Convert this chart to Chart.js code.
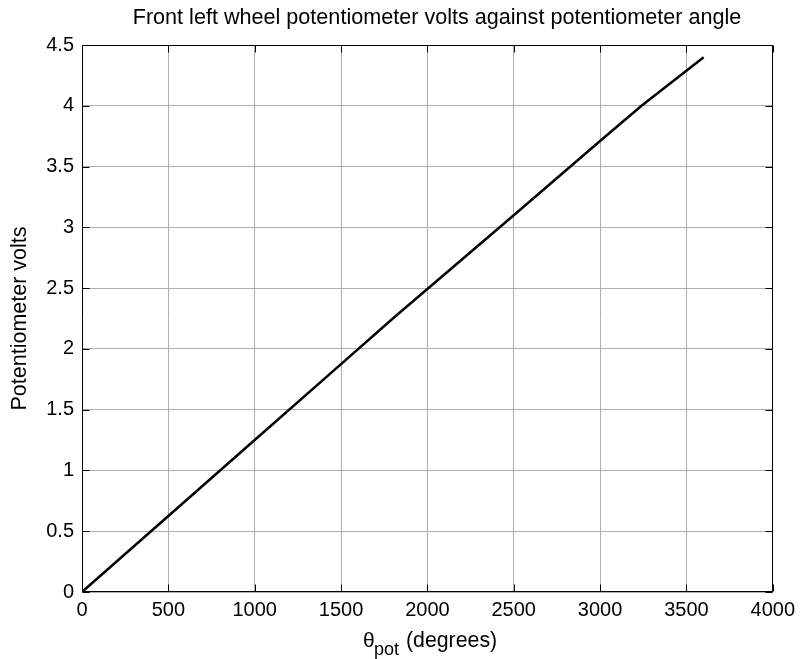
<!DOCTYPE html>
<html>
<head>
<meta charset="utf-8">
<title>Front left wheel potentiometer volts</title>
<script src="https://cdn.jsdelivr.net/npm/chart.js"></script>
<style>
  body { margin: 0; background: #fff; }
  canvas { display: block; }
</style>
</head>
<body>
<canvas id="grafico" width="803" height="659"></canvas>
<script>
// data
const angleDeg = [0, 500, 1000, 1500, 1800, 2500, 3000, 3240, 3600];
const potVolts = [0, 0.625, 1.25, 1.875, 2.25, 3.1, 3.71, 4.0, 4.4];
const xTicks = [0, 500, 1000, 1500, 2000, 2500, 3000, 3500, 4000];
const yTicks = [0, 0.5, 1, 1.5, 2, 2.5, 3, 3.5, 4, 4.5];

const fontFam = 'Arial, "Liberation Sans", Helvetica, sans-serif';

// box round the axes, inward tick marks and the texts
const matlabBox = {
  id: 'matlabBox',
  afterDraw(chart) {
    const ctx = chart.ctx;
    const a = chart.chartArea;
    const xs = chart.scales.x, ys = chart.scales.y;
    const L = Math.round(a.left) + 0.5, R = Math.round(a.right) - 0.5;
    const T = Math.round(a.top) + 0.5, B = Math.round(a.bottom) - 0.5;
    const tl = 7;
    ctx.save();
    ctx.strokeStyle = '#000';
    ctx.lineWidth = 1;
    ctx.beginPath();
    ctx.rect(L, T, R - L, B - T);
    xTicks.forEach(v => {
      const px = Math.round(xs.getPixelForValue(v)) + 0.5;
      ctx.moveTo(px, B); ctx.lineTo(px, B - tl);
      ctx.moveTo(px, T); ctx.lineTo(px, T + tl);
    });
    yTicks.forEach(v => {
      const py = Math.round(ys.getPixelForValue(v)) + 0.5;
      ctx.moveTo(L, py); ctx.lineTo(L + tl, py);
      ctx.moveTo(R, py); ctx.lineTo(R - tl, py);
    });
    ctx.stroke();

    ctx.fillStyle = '#000';
    // title
    ctx.font = '21.6px ' + fontFam;
    ctx.textAlign = 'center';
    ctx.textBaseline = 'middle';
    ctx.fillText('Front left wheel potentiometer volts against potentiometer angle', 437, 18);

    // y title
    ctx.save();
    ctx.translate(20, (a.top + a.bottom) / 2);
    ctx.rotate(-Math.PI / 2);
    ctx.font = '21.5px ' + fontFam;
    ctx.fillText('Potentiometer volts', 0, 0);
    ctx.restore();

    // x title with subscript
    ctx.textAlign = 'left';
    ctx.textBaseline = 'alphabetic';
    ctx.font = '21px ' + fontFam;
    ctx.fillText('\u03b8', 363, 647);
    ctx.font = '18px ' + fontFam;
    ctx.fillText('pot', 374, 655);
    ctx.font = '21.3px ' + fontFam;
    ctx.fillText('(degrees)', 406, 647);
    ctx.restore();
  }
};

new Chart(document.getElementById('grafico').getContext('2d'), {
  type: 'line',
  data: {
    datasets: [{
      data: angleDeg.map((x, i) => ({ x: x, y: potVolts[i] })),
      borderColor: '#000',
      borderWidth: 2.5,
      pointRadius: 0,
      tension: 0,
      fill: false
    }]
  },
  options: {
    responsive: false,
    animation: false,
    devicePixelRatio: 1,
    layout: { padding: { top: 45, right: 27, left: 0, bottom: 0 } },
    plugins: { legend: { display: false }, tooltip: { enabled: false } },
    scales: {
      x: {
        type: 'linear',
        min: 0,
        max: 4000,
        afterFit: s => { s.height = 67; },
        afterBuildTicks: s => { s.ticks = xTicks.map(v => ({ value: v })); },
        grid: { color: '#adadad', drawTicks: false },
        border: { display: false },
        ticks: {
          color: '#000',
          font: { family: fontFam, size: 20, lineHeight: 1 },
          padding: 8,
          maxRotation: 0,
          autoSkip: false,
          callback: v => String(v)
        }
      },
      y: {
        type: 'linear',
        min: 0,
        max: 4.5,
        afterFit: s => { s.width = 82; },
        afterBuildTicks: s => { s.ticks = yTicks.map(v => ({ value: v })); },
        grid: { color: '#adadad', drawTicks: false },
        border: { display: false },
        ticks: {
          color: '#000',
          font: { family: fontFam, size: 20, lineHeight: 1 },
          padding: 8,
          autoSkip: false,
          callback: v => String(v)
        }
      }
    }
  },
  plugins: [matlabBox]
});
</script>
</body>
</html>
